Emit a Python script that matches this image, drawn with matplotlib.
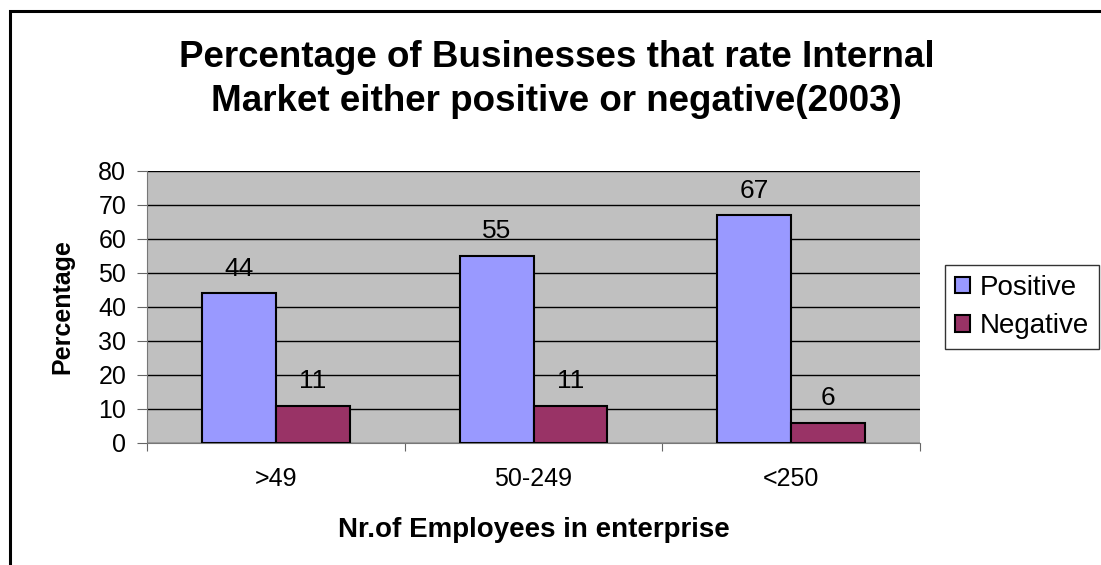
import numpy as np
import matplotlib
matplotlib.use("Agg")
import matplotlib.pyplot as plt
from matplotlib.patches import Rectangle

categories = [">49", "50-249", "<250"]
positive = [44, 55, 67]
negative = [11, 11, 6]

plt.rcParams['font.family'] = ['Liberation Sans', 'DejaVu Sans']

fig = plt.figure(figsize=(11.01, 5.65), dpi=100)
# outer chart border (runs off right and bottom edge)
fig.patches.append(Rectangle((10 / 1101, -0.1), 1.2, 1 - 11 / 565 + 0.1,
                             transform=fig.transFigure, fill=False,
                             edgecolor='black', linewidth=2.2))

ax = fig.add_axes([147 / 1101, 122 / 565, 773 / 1101, 272 / 565])
ax.set_facecolor('#C0C0C0')

x = np.arange(len(categories))
w = 0.287
b1 = ax.bar(x - w / 2, positive, w, color='#9999FF', edgecolor='black', linewidth=1.5, zorder=3)
b2 = ax.bar(x + w / 2, negative, w, color='#993366', edgecolor='black', linewidth=1.5, zorder=3)

for bars, vals in ((b1, positive), (b2, negative)):
    for r, v in zip(bars, vals):
        ax.annotate(str(v), (r.get_x() + r.get_width() / 2, v), xytext=(0, 9),
                    textcoords='offset points', ha='center', va='bottom', fontsize=19)

ax.set_xlim(-0.5, 2.5)
ax.set_ylim(0, 80)
ax.set_yticks(range(0, 81, 10))
ax.yaxis.grid(True, color='black', linewidth=1)
ax.set_axisbelow(True)
ax.set_xticks([-0.5, 0.5, 1.5, 2.5])
ax.set_xticklabels([])
ax.set_xticks(x, minor=True)
ax.set_xticklabels(categories, minor=True, fontsize=18)
ax.tick_params(axis='x', which='minor', length=0, pad=17)
ax.tick_params(axis='x', which='major', length=6, color='#666666')
ax.tick_params(axis='y', labelsize=18, length=7, pad=8, color='#666666')
for s in ('top', 'right'):
    ax.spines[s].set_visible(False)
for s in ('left', 'bottom'):
    ax.spines[s].set_color('#777777')

ax.set_ylabel('Percentage', fontsize=18, fontweight='bold', labelpad=17)
ax.set_xlabel('Nr.of Employees in enterprise', fontsize=20, fontweight='bold', labelpad=19)
fig.text(0.5 + 6 / 1101, 1 - 67 / 565, 'Percentage of Businesses that rate Internal',
         ha='center', va='baseline', fontsize=26.5, fontweight='bold')
fig.text(0.5 + 6 / 1101, 1 - 111 / 565, 'Market either positive or negative(2003)',
         ha='center', va='baseline', fontsize=26.5, fontweight='bold')

leg = fig.legend([b1, b2], ['Positive', 'Negative'], loc='upper left',
                 bbox_to_anchor=(945 / 1101, 1 - 265 / 565), fontsize=20,
                 frameon=True, fancybox=False, edgecolor='black',
                 handlelength=0.55, handleheight=0.55, handletextpad=0.35,
                 borderpad=0.35, labelspacing=0.45, borderaxespad=0)
leg.get_frame().set_linewidth(1)

fig.savefig('out.png', dpi=100)
